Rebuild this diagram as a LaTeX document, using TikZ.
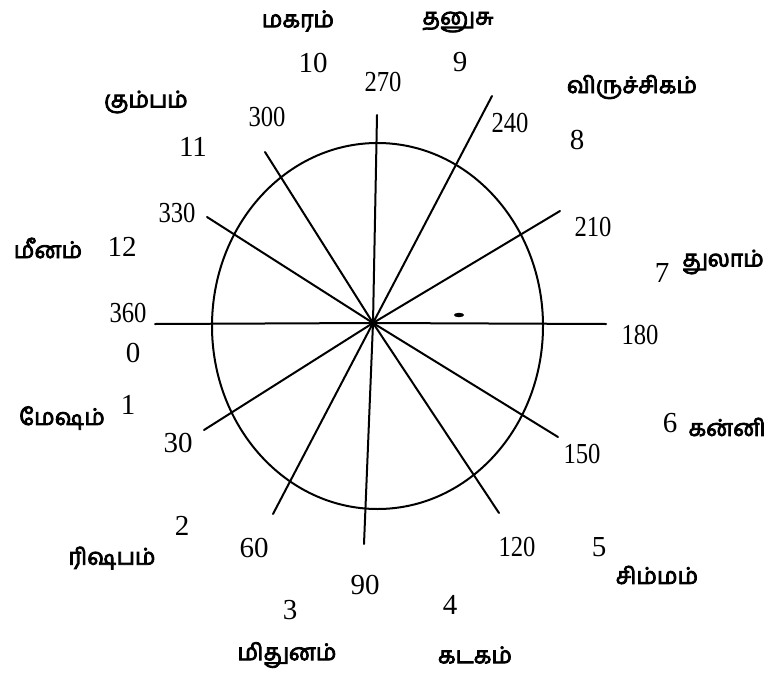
\documentclass[tikz,border=0pt]{standalone}
\usepackage{fontspec}
\setmainfont{Liberation Serif}
\newfontfamily\tamil[Script=Tamil,FakeBold=3.5]{Hind Madurai}
\usetikzlibrary{positioning}

% narrow three-figure degree marks
\newcommand{\degmark}[1]{\scalebox{0.85}[1]{#1}}

\begin{document}
\begin{tikzpicture}[x=1pt,y=-1pt,
    ln/.style={line width=2pt,line cap=round},
    num/.style={inner sep=0pt,font=\fontsize{29}{29}\selectfont},
    rasi/.style={inner sep=0pt,font=\tamil\fontsize{23}{23}\selectfont}]
  \useasboundingbox (0,0) rectangle (776,677);

  % wheel
  \coordinate (c) at (373,323);
  \draw[ln] (377.5,326) ellipse (165.5 and 183);
  \coordinate (e360) at (155,324);
  \coordinate (e330) at (207,217);
  \coordinate (e300) at (265,152);
  \coordinate (e270) at (377,115);
  \coordinate (e240) at (492,96);
  \coordinate (e210) at (560,211);
  \coordinate (e180) at (606,324);
  \coordinate (e150) at (558,437);
  \coordinate (e120) at (499,513);
  \coordinate (e90) at (364,544);
  \coordinate (e60) at (273,514);
  \coordinate (e30) at (204,430);
  \foreach \e in {e360,e330,e300,e270,e240,e210,e180,e150,e120,e90,e60,e30}
    \draw[ln] (c) -- (\e);
  \fill (459,315) ellipse (5 and 2.2);

  % degrees
  \node[num] (d360) at (128,313) {\degmark{360}};
  \node[num] (d0) at (133,353) {0};
  \node[num] (d330) at (177,213) {\degmark{330}};
  \node[num] (d300) at (267,117) {\degmark{300}};
  \node[num] (d270) at (383,82) {\degmark{270}};
  \node[num] (d240) at (510,123) {\degmark{240}};
  \node[num] (d210) at (593,227) {\degmark{210}};
  \node[num] (d180) at (640,335) {\degmark{180}};
  \node[num] (d150) at (582,454) {\degmark{150}};
  \node[num] (d120) at (517,547) {\degmark{120}};
  \node[num] (d90) at (365,585) {90};
  \node[num] (d60) at (254,548) {60};
  \node[num] (d30) at (178,443) {30};

  % signs
  \node[num] (r1) at (128,405) {1};
  \node[rasi] (n1) at (62,418) {மேஷம்};
  \node[num] (r2) at (182,526) {2};
  \node[rasi] (n2) at (112,558) {ரிஷபம்};
  \node[num] (r3) at (290,610) {3};
  \node[rasi] (n3) at (287,655) {மிதுனம்};
  \node[num] (r4) at (450,605) {4};
  \node[rasi] (n4) at (475,655) {கடகம்};
  \node[num] (r5) at (599,547) {5};
  \node[rasi] (n5) at (657,575) {சிம்மம்};
  \node[num] (r6) at (670,423) {6};
  \node[rasi] (n6) at (727,427) {கன்னி};
  \node[num] (r7) at (662,273) {7};
  \node[rasi] (n7) at (723,262) {துலாம்};
  \node[num] (r8) at (577,140) {8};
  \node[rasi] (n8) at (632,87) {விருச்சிகம்};
  \node[num] (r9) at (460,62) {9};
  \node[rasi] (n9) at (458,22) {தனுசு};
  \node[num] (r10) at (313,63) {10};
  \node[rasi] (n10) at (298,21) {மகரம்};
  \node[num] (r11) at (193,147) {11};
  \node[rasi] (n11) at (146,102) {கும்பம்};
  \node[num] (r12) at (122,247) {12};
  \node[rasi] (n12) at (48,248) {மீனம்};
\end{tikzpicture}
\end{document}
